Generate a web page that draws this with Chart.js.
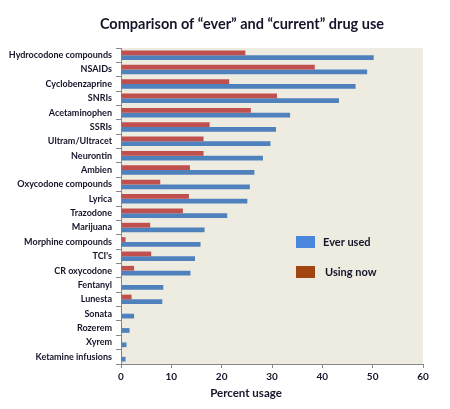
<!DOCTYPE html>
<html>
<head>
<meta charset="utf-8">
<script src="https://cdn.jsdelivr.net/npm/chart.js@4"></script>
<style>
  html, body { margin: 0; padding: 0; background: #fff; }
  #wrap { width: 450px; height: 409px; }
</style>
</head>
<body>
<div id="wrap"><canvas id="drugChart" width="450" height="409"></canvas></div>
<script>
const drugs = ['Hydrocodone compounds', 'NSAIDs', 'Cyclobenzaprine', 'SNRIs', 'Acetaminophen', 'SSRIs',
  'Ultram/Ultracet', 'Neurontin', 'Ambien', 'Oxycodone compounds', 'Lyrica', 'Trazodone', 'Marijuana',
  'Morphine compounds', "TCI's", 'CR oxycodone', 'Fentanyl', 'Lunesta', 'Sonata', 'Rozerem', 'Xyrem',
  'Ketamine infusions'];
const everUsed = [50.2, 48.9, 46.6, 43.3, 33.6, 30.8, 29.7, 28.2, 26.5, 25.6, 25.1, 21.1, 16.6, 15.8, 14.7, 13.8, 8.4, 8.2, 2.6, 1.7, 1.1, 0.9];
const usingNow = [24.7, 38.5, 21.5, 31.0, 25.8, 17.6, 16.4, 16.4, 13.7, 7.8, 13.5, 12.3, 5.8, 0.9, 6.0, 2.6, 0, 2.1, 0.2, 0.2, 0.2, 0.2];
const xTicks = [0, 10, 20, 30, 40, 50, 60];

const labelFont = "Lato, 'Open Sans', sans-serif";
const textColor = '#15152a';

// beige plot background
const plotBg = {
  id: 'plotBg',
  beforeDraw(chart) {
    const a = chart.chartArea, c = chart.ctx;
    c.save();
    c.fillStyle = '#EEEBE1';
    c.fillRect(a.left, a.top, a.right - a.left, a.bottom - a.top);
    c.restore();
  }
};

// title, axis title and legend placed like the original
const extras = {
  id: 'extras',
  afterDraw(chart) {
    const c = chart.ctx;
    c.save();
    c.fillStyle = textColor;
    c.textBaseline = 'middle';
    c.textAlign = 'center';
    c.font = "bold 14.5px " + labelFont;
    c.fillText('Comparison of \u201cever\u201d and \u201ccurrent\u201d drug use', 242, 24);
    c.font = "bold 11.5px " + labelFont;
    c.fillText('Percent usage', 246, 393);

    const items = [
      { text: 'Ever used', color: '#4A86DC', y: 242 },
      { text: 'Using now', color: '#A0460E', y: 272 }
    ];
    c.textAlign = 'left';
    c.font = "bold 11px " + labelFont;
    items.forEach(it => {
      c.fillStyle = it.color;
      c.fillRect(296, it.y - 6, 19, 12);
      c.fillStyle = textColor;
      c.fillText(it.text, it.text === 'Using now' ? 325 : 323, it.y);
    });
    c.restore();
  }
};

new Chart(document.getElementById('drugChart'), {
  type: 'bar',
  data: {
    labels: drugs,
    datasets: [
      { label: 'Using now', data: usingNow, backgroundColor: '#C0504D', categoryPercentage: 0.66, barPercentage: 1 },
      { label: 'Ever used', data: everUsed, backgroundColor: '#4F81BD', categoryPercentage: 0.66, barPercentage: 1 }
    ]
  },
  options: {
    indexAxis: 'y',
    responsive: false,
    animation: false,
    layout: { padding: { left: 0, right: 27, top: 48, bottom: 0 } },
    plugins: {
      legend: { display: false },
      tooltip: { enabled: false },
      title: { display: false }
    },
    scales: {
      x: {
        min: 0, max: 60,
        afterBuildTicks: s => { s.ticks = xTicks.map(v => ({ value: v })); },
        afterFit: s => { s.height = 45; },
        grid: { drawOnChartArea: false, tickLength: 4, color: '#888' },
        border: { color: '#888' },
        ticks: { color: textColor, padding: 3, font: { family: labelFont, size: 10, weight: 'bold' } }
      },
      y: {
        afterFit: s => { s.width = 121; },
        grid: { drawOnChartArea: false, tickLength: 5, color: '#888', offset: true },
        border: { color: '#888' },
        ticks: { color: textColor, padding: 4, autoSkip: false, font: { family: labelFont, size: 9, weight: 'bold' } }
      }
    }
  },
  plugins: [plotBg, extras]
});
</script>
</body>
</html>
